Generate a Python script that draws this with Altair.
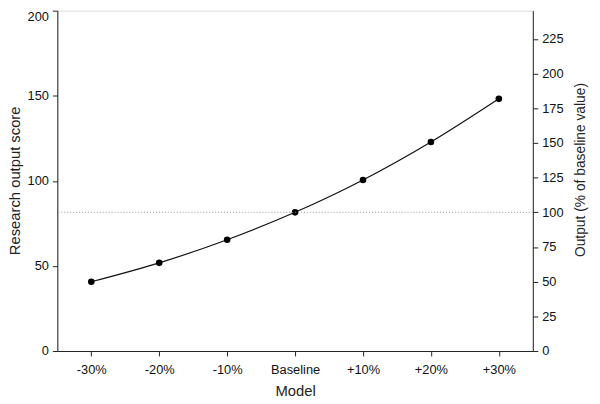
import altair as alt
import pandas as pd

models = ["-30%", "-20%", "-10%", "Baseline", "+10%", "+20%", "+30%"]
scores = [40.7, 51.8, 65.4, 81.5, 100.5, 122.8, 148.2]
baseline_pct = [100]
right_max = 200 * 100 / 81.5

df = pd.DataFrame({"model": models, "score": scores})
ref = pd.DataFrame({"pct": baseline_pct})

FONT = "Liberation Sans"
LS = 13

x_enc = alt.X(
    "model:N", sort=models, title="Model",
    scale=alt.Scale(type="point", padding=0.5),
    axis=alt.Axis(labelAngle=0, labelFontSize=LS, titleFontSize=15, labelPadding=8,
                  titlePadding=7, tickSize=5, domainColor="#222", tickColor="#222",
                  labelColor="#111", titleColor="#222", titleFontWeight="normal"),
)

line = alt.Chart(df).mark_line(color="#111", strokeWidth=1.2, interpolate="monotone").encode(
    x=x_enc,
    y=alt.Y("score:Q", title="Research output score",
            scale=alt.Scale(domain=[0, 200], nice=False),
            axis=alt.Axis(values=[0, 50, 100, 150, 200], labelFontSize=LS, titleFontSize=15,
                          tickSize=5, labelPadding=4, grid=False,
                          labelBaseline=alt.ExprRef("datum.value == 200 ? 'top' : 'middle'"),
                          titleX=-35, titleY=172, titleAngle=270, titleBaseline="bottom",
                          domainColor="#222", tickColor="#222", labelColor="#111",
                          titleColor="#222", titleFontWeight="normal")),
)
pts = alt.Chart(df).mark_point(filled=True, color="#000", size=45, opacity=1).encode(
    x=alt.X("model:N", sort=models),
    y=alt.Y("score:Q"),
)

rule = alt.Chart(ref).mark_rule(color="#999", strokeDash=[1, 2], strokeWidth=1).encode(
    y=alt.Y("pct:Q", title="Output (% of baseline value)",
            scale=alt.Scale(domain=[0, right_max], nice=False),
            axis=alt.Axis(orient="right", values=list(range(0, 226, 25)), labelFontSize=LS,
                          titleFontSize=14, tickSize=5, labelPadding=4,
                          titleAngle=270, titleX=55, titleY=161, titleBaseline="bottom",
                          grid=False, domainColor="#222", tickColor="#222",
                          labelColor="#111", titleColor="#222", titleFontWeight="normal")),
)

left = alt.layer(line, pts)
chart = alt.layer(left, rule).resolve_scale(y="independent").properties(
    width=482, height=345,
    autosize=alt.AutoSizeParams(type="none"),
    padding={"left": 50, "top": 0, "right": 60, "bottom": 51},
).configure_view(stroke=None).configure(font=FONT)

chart.save("out.html", embed_options={"renderer": "svg", "actions": False})
